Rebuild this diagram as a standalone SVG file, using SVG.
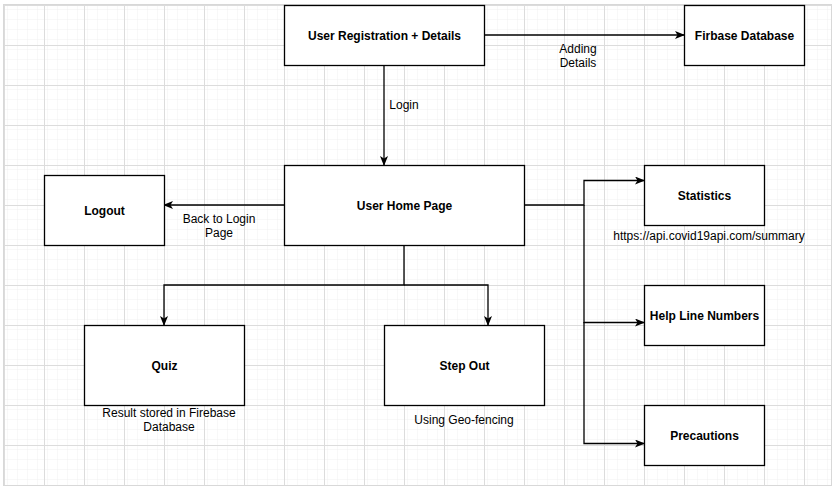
<svg xmlns="http://www.w3.org/2000/svg" width="835" height="487" viewBox="0 0 835 487">
  <defs>
    <pattern id="minor" x="4" y="5" width="10" height="10" patternUnits="userSpaceOnUse">
      <path d="M10 0 V10 M0 10 H10" fill="none" stroke="#f0f0f0" stroke-width="1"/>
    </pattern>
    <pattern id="major" x="4" y="5" width="40" height="40" patternUnits="userSpaceOnUse">
      <rect width="40" height="40" fill="url(#minor)"/>
      <path d="M0 0.5 H40 M0.5 0 V40" fill="none" stroke="#dcdcdc" stroke-width="1"/>
    </pattern>
    <marker id="arrow" viewBox="0 0 10 8" refX="9" refY="4" markerWidth="10" markerHeight="8" markerUnits="userSpaceOnUse" orient="auto">
      <path d="M0,0 L10,4 L0,8 L2.5,4 z" fill="#000"/>
    </marker>
    <style>
      .box { fill: #ffffff; stroke: #000000; stroke-width: 1.3; }
      .title { font-family: "Liberation Sans", Arial, sans-serif; font-size: 12px; font-weight: bold; fill: #000; text-anchor: middle; dominant-baseline: central; }
      .lbl { font-family: "Liberation Sans", Arial, sans-serif; font-size: 12px; fill: #000; text-anchor: middle; dominant-baseline: central; }
      .conn { fill: none; stroke: #000; stroke-width: 1.3; }
    </style>
  </defs>

  <rect x="0" y="0" width="835" height="487" fill="#ffffff"/>
  <rect x="4" y="5" width="827" height="480" fill="url(#major)"/>
  <rect x="3.5" y="4.5" width="828" height="481" fill="none" stroke="#d8d8d8" stroke-width="1"/>

  <g id="connectors">
    <path class="conn" d="M484 35 H684" marker-end="url(#arrow)"/>
    <path class="conn" d="M384 65 V165" marker-end="url(#arrow)"/>
    <path class="conn" d="M284 205 H164" marker-end="url(#arrow)"/>
    <path class="conn" d="M404 245 V285 H164 V325" marker-end="url(#arrow)"/>
    <path class="conn" d="M404 285 H488 V325" marker-end="url(#arrow)"/>
    <path class="conn" d="M524 205 H584 V180.5 H644" marker-end="url(#arrow)"/>
    <path class="conn" d="M584 205 V322.5 H644" marker-end="url(#arrow)"/>
    <path class="conn" d="M584 322 V443.5 H644" marker-end="url(#arrow)"/>
    <text class="lbl" x="578" y="48.5">Adding</text>
    <text class="lbl" x="578" y="62.5">Details</text>
    <text class="lbl" x="404" y="105">Login</text>
    <text class="lbl" x="219" y="219">Back to Login</text>
    <text class="lbl" x="219" y="233">Page</text>
  </g>

  <g id="user-registration">
    <rect class="box" x="284.5" y="5.5" width="200" height="60"/>
    <text class="title" x="384.5" y="35.5">User Registration + Details</text>
  </g>
  <g id="firbase-database">
    <rect class="box" x="684.5" y="5.5" width="120" height="60"/>
    <text class="title" x="744.5" y="35.5">Firbase Database</text>
  </g>
  <g id="user-home-page">
    <rect class="box" x="284.5" y="165.5" width="240" height="80"/>
    <text class="title" x="404.5" y="205.5">User Home Page</text>
  </g>
  <g id="logout">
    <rect class="box" x="44.5" y="175.5" width="120" height="70"/>
    <text class="title" x="104.5" y="210.5">Logout</text>
  </g>
  <g id="statistics">
    <rect class="box" x="644.5" y="165.5" width="120" height="60"/>
    <text class="title" x="704.5" y="195.5">Statistics</text>
    <text class="lbl" x="709" y="236">https://api.covid19api.com/summary</text>
  </g>
  <g id="help-line-numbers">
    <rect class="box" x="644.5" y="285.5" width="120" height="60"/>
    <text class="title" x="704.5" y="315.5">Help Line Numbers</text>
  </g>
  <g id="precautions">
    <rect class="box" x="644.5" y="405.5" width="120" height="60"/>
    <text class="title" x="704.5" y="435.5">Precautions</text>
  </g>
  <g id="quiz">
    <rect class="box" x="84.5" y="325.5" width="160" height="80"/>
    <text class="title" x="164.5" y="365.5">Quiz</text>
    <text class="lbl" x="169" y="413">Result stored in Firebase</text>
    <text class="lbl" x="169" y="427">Database</text>
  </g>
  <g id="step-out">
    <rect class="box" x="384.5" y="325.5" width="160" height="80"/>
    <text class="title" x="464.5" y="365.5">Step Out</text>
    <text class="lbl" x="464" y="420">Using Geo-fencing</text>
  </g>
</svg>
